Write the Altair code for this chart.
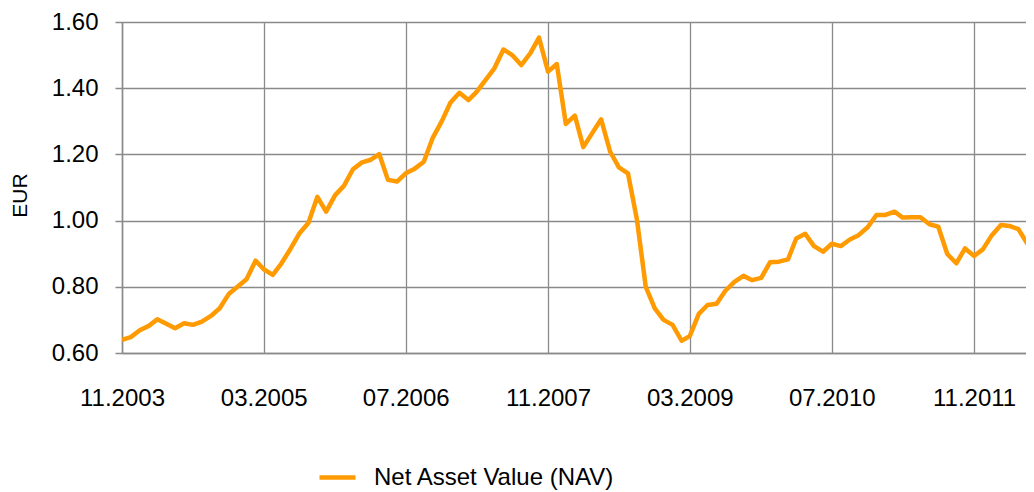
import altair as alt
import pandas as pd

# Monthly NAV (EUR), starting 11.2003
nav = [
    0.640, 0.648, 0.669, 0.682, 0.702, 0.688, 0.675, 0.690, 0.685, 0.695,
    0.712, 0.735, 0.778, 0.800, 0.823, 0.879, 0.853, 0.836, 0.871, 0.915,
    0.961, 0.993, 1.072, 1.027, 1.077, 1.105, 1.155, 1.176, 1.183, 1.201,
    1.123, 1.118, 1.143, 1.157, 1.178, 1.249, 1.299, 1.356, 1.386, 1.364,
    1.389, 1.425, 1.460, 1.517, 1.500, 1.470, 1.505, 1.553, 1.450, 1.473,
    1.292, 1.317, 1.222, 1.265, 1.306, 1.208, 1.161, 1.143, 1.002, 0.800,
    0.735, 0.700, 0.685, 0.637, 0.651, 0.718, 0.745, 0.749, 0.788, 0.815,
    0.833, 0.820, 0.827, 0.874, 0.876, 0.883, 0.946, 0.960, 0.923, 0.906,
    0.930, 0.923, 0.943, 0.956, 0.980, 1.017, 1.017, 1.027, 1.009, 1.010,
    1.010, 0.989, 0.982, 0.899, 0.871, 0.916, 0.893, 0.913, 0.956, 0.987,
    0.984, 0.974, 0.931, 0.962,
]
months = pd.date_range("2003-11-01", periods=len(nav), freq="MS")
series_name = "Net Asset Value (NAV)"

tick_dates = [(2003, 11), (2005, 3), (2006, 7), (2007, 11), (2009, 3), (2010, 7), (2011, 11)]
y_ticks = [0.60, 0.80, 1.00, 1.20, 1.40, 1.60]

df = pd.DataFrame({"date": months, "nav": nav, "series": series_name})

GRID = "#8a8a8a"
FONT = "Liberation Sans"
FS = 24

chart = (
    alt.Chart(df)
    .mark_line(clip=True, strokeWidth=4.5, strokeJoin="round")
    .encode(
        x=alt.X(
            "date:T",
            scale=alt.Scale(
                domain=[
                    alt.DateTime(year=2003, month=11, date=1),
                    alt.DateTime(year=2012, month=4, date=27),
                ]
            ),
            axis=alt.Axis(
                values=[alt.DateTime(year=y, month=m, date=1) for y, m in tick_dates],
                format="%m.%Y",
                title=None,
                grid=True,
                gridColor=GRID,
                gridWidth=1.3,
                ticks=False,
                domainColor=GRID,
                domainWidth=1.5,
                labelFontSize=FS,
                labelColor="black",
                labelFont=FONT,
                labelPadding=33,
                labelFlush=False,
                labelOverlap=False,
            ),
        ),
        y=alt.Y(
            "nav:Q",
            scale=alt.Scale(domain=[0.6, 1.6], nice=False, zero=False),
            axis=alt.Axis(
                values=y_ticks,
                format=".2f",
                title="EUR",
                titleFont=FONT,
                titleFontSize=21,
                titleFontWeight="normal",
                titleColor="black",
                titleAngle=-90,
                titleAlign="center",
                titleBaseline="middle",
                titleX=-102,
                titleY=173,
                grid=True,
                gridColor=GRID,
                gridWidth=1.3,
                tickSize=7,
                tickColor=GRID,
                tickWidth=1.5,
                domainColor=GRID,
                domainWidth=1.5,
                labelFontSize=FS,
                labelColor="black",
                labelFont=FONT,
                labelPadding=17,
            ),
        ),
        color=alt.Color(
            "series:N",
            scale=alt.Scale(range=["#FF9A00"]),
            legend=alt.Legend(
                title=None,
                orient="none",
                legendX=195,
                legendY=435,
                padding=0,
                symbolType="stroke",
                symbolSize=1296,
                symbolStrokeWidth=4.5,
                labelFontSize=FS,
                labelFont=FONT,
                labelColor="black",
                labelOffset=16,
                labelLimit=0,
            ),
        ),
    )
    .properties(
        width=904,
        height=331,
        autosize=alt.AutoSizeParams(type="none"),
        padding={"left": 114, "top": 14, "right": 0, "bottom": 139},
    )
    .configure_view(stroke=None)
    .configure(background="white")
)

chart.save("out.html", embed_options={"renderer": "svg", "actions": False})
